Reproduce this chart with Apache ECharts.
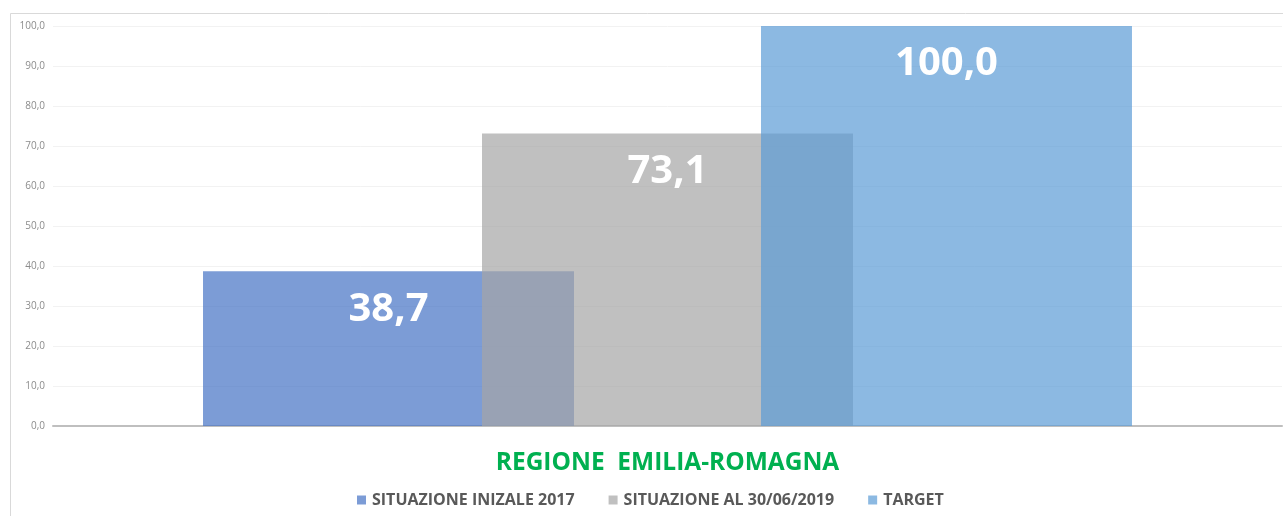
<!DOCTYPE html>
<html>
<head>
<meta charset="utf-8">
<script src="https://cdn.jsdelivr.net/npm/echarts@6/dist/echarts.min.js"></script>
<style>
html,body{margin:0;padding:0;background:#fff;}
#chart{width:1283px;height:516px;}
</style>
</head>
<body>
<div id="chart"></div>
<script>
const categories = ['REGIONE  EMILIA-ROMAGNA'];
const seriesNames = ['SITUAZIONE INIZALE 2017', 'SITUAZIONE AL 30/06/2019', 'TARGET'];
const valuesInitial = [38.7];
const valuesJune2019 = [73.1];
const valuesTarget = [100.0];
const seriesColors = ['rgba(68,114,196,0.7)', 'rgba(165,165,165,0.7)', 'rgba(91,155,213,0.7)'];
const legendColors = ['#7c9cd6', '#c0c0c0', '#8cb9e2'];

const fmt = v => v.toFixed(1).replace('.', ',');
const allValues = [valuesInitial, valuesJune2019, valuesTarget];

const chart = echarts.init(document.getElementById('chart'), null, {renderer: 'canvas'});
chart.setOption({
  backgroundColor: '#fff',
  animation: false,
  graphic: [{
    type: 'polyline',
    shape: {points: [[10.5, 600], [10.5, 13.5], [1290, 13.5]]},
    style: {stroke: '#d9d9d9', lineWidth: 1, fill: null},
    silent: true
  }],
  grid: {left: 53, right: 1, top: 26, bottom: 90, containLabel: false},
  legend: {
    bottom: 8,
    left: 357,
    itemWidth: 9,
    itemHeight: 9,
    itemGap: 34,
    icon: 'rect',
    padding: 0,
    textStyle: {color: '#595959', fontSize: 16, fontWeight: 'bold', fontFamily: 'Open Sans', padding: [0, 0, 0, 1]},
    data: seriesNames.map((n, i) => ({name: n, itemStyle: {color: legendColors[i]}}))
  },
  xAxis: {
    type: 'category',
    data: categories,
    axisTick: {show: false},
    axisLine: {show: true, lineStyle: {color: '#bfbfbf', width: 2}},
    axisLabel: {
      show: true, margin: 25,
      color: '#00b050', fontSize: 24.5, fontWeight: 'bold', fontFamily: 'Open Sans'
    }
  },
  yAxis: {
    type: 'value',
    min: 0, max: 100, interval: 10,
    axisLine: {show: false},
    axisTick: {show: false},
    splitLine: {lineStyle: {color: '#f2f2f2', width: 1}},
    axisLabel: {
      formatter: v => fmt(v),
      color: '#8c8c8c', fontSize: 10, fontFamily: 'Open Sans', margin: 8
    }
  },
  series: seriesNames.map((name, i) => ({
    name: name,
    type: 'bar',
    data: allValues[i],
    barWidth: 371,
    barGap: '-24.8%',
    itemStyle: {color: seriesColors[i]},
    label: {
      show: true,
      position: 'insideTop',
      distance: 18,
      formatter: p => fmt(p.value),
      color: '#fff',
      fontSize: 40,
      fontWeight: 'bold',
      fontFamily: 'Open Sans'
    }
  }))
});
</script>
</body>
</html>
